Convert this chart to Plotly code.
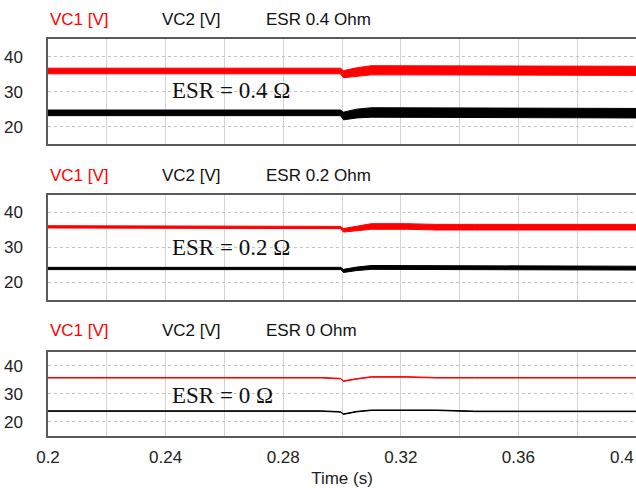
import plotly.graph_objects as go

# ---------------- data ----------------
T = [0.200, 0.293, 0.2995, 0.3005, 0.305, 0.310, 0.322, 0.332, 0.345, 0.400]

# ESR 0.4 Ohm
VC1_ESR04 = [35.9, 35.9, 35.9, 35.0, 35.6, 36.1, 36.1, 36.1, 35.95, 35.95]
VC2_ESR04 = [24.0, 24.0, 24.0, 23.1, 23.8, 24.1, 24.1, 24.0, 23.9, 23.9]
RIP1_ESR04 = [1.6, 1.6, 1.6, 2.0, 2.4, 2.6, 2.6, 2.6, 2.6, 2.6]
RIP2_ESR04 = [1.6, 1.6, 1.6, 2.2, 2.5, 2.7, 2.7, 2.7, 2.7, 2.7]

# ESR 0.2 Ohm
VC1_ESR02 = [35.9, 35.9, 35.7, 34.9, 35.5, 36.0, 36.0, 35.8, 35.8, 35.8]
VC2_ESR02 = [24.0, 24.0, 24.0, 23.3, 23.9, 24.3, 24.3, 24.1, 24.1, 24.1]
RIP1_ESR02 = [0.65, 0.65, 0.65, 1.0, 1.3, 1.6, 1.6, 1.6, 1.6, 1.6]
RIP2_ESR02 = [0.65, 0.65, 0.65, 0.9, 1.0, 1.1, 1.1, 1.1, 1.1, 1.1]

# ESR 0 Ohm
VC1_ESR0 = [35.8, 35.8, 35.5, 34.6, 35.4, 36.1, 36.1, 35.8, 35.8, 35.8]
VC2_ESR0 = [23.9, 23.9, 23.6, 22.8, 23.7, 24.2, 24.2, 24.2, 23.8, 23.8]
RIP1_ESR0 = [0.2] * 10
RIP2_ESR0 = [0.2] * 10

HEADERS = ["ESR 0.4 Ohm", "ESR 0.2 Ohm", "ESR 0 Ohm"]
LABELS = ["ESR = 0.4 Ω", "ESR = 0.2 Ω", "ESR = 0 Ω"]
LABEL_Y = [30.3, 30.1, 29.5]
SERIES = [
    (VC1_ESR04, RIP1_ESR04, VC2_ESR04, RIP2_ESR04),
    (VC1_ESR02, RIP1_ESR02, VC2_ESR02, RIP2_ESR02),
    (VC1_ESR0, RIP1_ESR0, VC2_ESR0, RIP2_ESR0),
]
X_TICKS = [0.2, 0.24, 0.28, 0.32, 0.36, 0.4]
X_TICKTEXT = ["0.2", "0.24", "0.28", "0.32", "0.36", "0.4"]
Y_TICKS = [20, 30, 40]

# ---------------- styling ----------------
RED = "#ff0000"
BLACK = "#000000"
SANS = "Liberation Sans, Arial, sans-serif"
SERIF = "Liberation Serif, Times New Roman, serif"

W, H = 636, 488
ML, MR, MT, MB = 48, 0, 39, 52
PH = H - MT - MB
DOMAINS = [[0.7343, 1.0], [0.3426, 0.6071], [0.0, 0.2116]]
HEADER_Y = [1.0479, 0.6562, 0.2645]
X_RANGE = [0.2, 0.4]

fig = go.Figure()
layout = dict(
    width=W, height=H,
    margin=dict(l=ML, r=MR, t=MT, b=MB, pad=0, autoexpand=False),
    paper_bgcolor="white", plot_bgcolor="white",
    showlegend=False,
    font=dict(family=SANS, size=17, color="#222222"),
)
annotations = []

for i, (v1, r1, v2, r2) in enumerate(SERIES):
    n = "" if i == 0 else str(i + 1)
    xa, ya = "x" + n, "y" + n
    for vals, rip, col in ((v1, r1, RED), (v2, r2, BLACK)):
        upper = [v + r / 2 for v, r in zip(vals, rip)]
        lower = [v - r / 2 for v, r in zip(vals, rip)]
        fig.add_trace(go.Scatter(x=T, y=upper, mode="lines", xaxis=xa, yaxis=ya,
                                 line=dict(color=col, width=1), hoverinfo="skip"))
        fig.add_trace(go.Scatter(x=T, y=lower, mode="lines", xaxis=xa, yaxis=ya,
                                 line=dict(color=col, width=1), fill="tonexty",
                                 fillcolor=col, hoverinfo="skip"))
    bottom = (i == 2)
    # the last tick label (at the right edge) is drawn as an annotation so it stays visible
    shown_text = X_TICKTEXT[:-1] + [""]
    xdict = dict(
        domain=[0, 1], range=X_RANGE, anchor=ya,
        showline=True, mirror=True, linecolor="#5a5a5a", linewidth=1.5,
        showgrid=True, gridcolor="#d4d4d4", gridwidth=1,
        zeroline=False,
        tickmode="array", tickvals=X_TICKS, ticktext=shown_text, showticklabels=bottom,
        ticklabeloverflow="allow",
        ticks="outside" if bottom else "", ticklen=5, tickcolor="rgba(0,0,0,0)",
        minor=dict(dtick=0.02, tick0=0.2, showgrid=True, gridcolor="#d4d4d4", gridwidth=1),
        tickfont=dict(family=SANS, size=17, color="#222222"),
        automargin=False,
    )
    if i > 0:
        xdict["matches"] = "x"
    if bottom:
        xdict["title"] = dict(text="Time (s)", standoff=12,
                              font=dict(family=SANS, size=17, color="#222222"))
    ydict = dict(
        domain=DOMAINS[i], range=[15, 45], anchor=xa,
        showline=True, mirror=False, linecolor="#5a5a5a", linewidth=1.5,
        showgrid=True, gridcolor="#c4c4c4", gridwidth=1, griddash="dot",
        zeroline=False, tickvals=Y_TICKS,
        ticks="outside", ticklen=20, tickcolor="rgba(0,0,0,0)",
        tickfont=dict(family=SANS, size=17, color="#222222"),
    )
    layout["xaxis" + n] = xdict
    layout["yaxis" + n] = ydict

    hy = HEADER_Y[i]
    for txt, px, col in (("VC1 [V]", 48, RED), ("VC2 [V]", 160, "#111111"), (HEADERS[i], 264, "#111111")):
        annotations.append(dict(text=txt, xref="paper", yref="paper",
                                x=(px - ML) / (W - ML - MR), y=hy,
                                xanchor="left", yanchor="middle", showarrow=False,
                                font=dict(family=SANS, size=17, color=col)))
    annotations.append(dict(text=LABELS[i], xref=xa, yref=ya, x=0.2414, y=LABEL_Y[i],
                            xanchor="left", yanchor="middle", showarrow=False,
                            font=dict(family=SERIF, size=23, color="#111111")))

annotations.append(dict(text=X_TICKTEXT[-1], xref="paper", yref="paper",
                        x=1.0, y=(436 - 457) / PH, xanchor="right", yanchor="middle",
                        showarrow=False, font=dict(family=SANS, size=17, color="#222222")))

layout["annotations"] = annotations
fig.update_layout(**layout)
fig.write_html("out.html")
